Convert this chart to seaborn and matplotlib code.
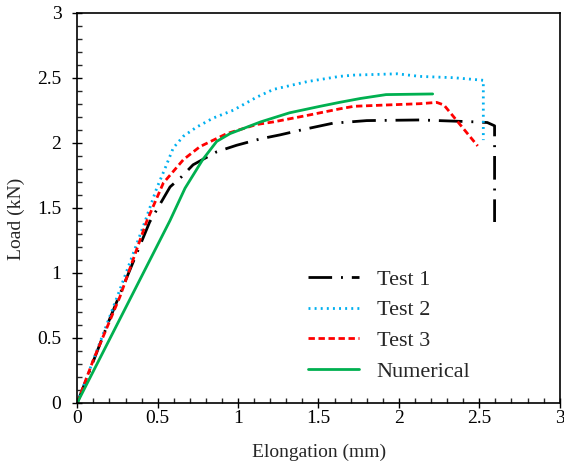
import matplotlib
matplotlib.use("Agg")
import matplotlib.pyplot as plt
import seaborn as sns
import pandas as pd
from matplotlib.ticker import MultipleLocator

# ---- data ----
test1_x = [0, 0.2, 0.45, 0.577, 0.65, 0.72, 0.867, 0.99, 1.14, 1.26, 1.40, 1.59, 1.80, 2.13, 2.48, 2.55, 2.595, 2.595]
test1_y = [0, 0.64, 1.39, 1.66, 1.74, 1.83, 1.93, 1.98, 2.03, 2.06, 2.10, 2.15, 2.17, 2.175, 2.16, 2.155, 2.13, 1.39]

test2_x = [0, 0.1, 0.25, 0.42, 0.494, 0.545, 0.597, 0.66, 0.742, 0.846, 0.97, 1.115, 1.22, 1.43, 1.63, 1.72, 1.99, 2.13, 2.34, 2.525, 2.525]
test2_y = [0, 0.33, 0.82, 1.39, 1.65, 1.80, 1.96, 2.05, 2.12, 2.19, 2.25, 2.35, 2.41, 2.47, 2.51, 2.52, 2.53, 2.51, 2.50, 2.48, 2.02]

test3_x = [0, 0.10, 0.265, 0.43, 0.535, 0.66, 0.763, 0.93, 1.115, 1.22, 1.43, 1.63, 1.72, 1.92, 2.13, 2.235, 2.28, 2.49]
test3_y = [0, 0.33, 0.815, 1.39, 1.69, 1.87, 1.97, 2.07, 2.14, 2.16, 2.21, 2.26, 2.28, 2.29, 2.30, 2.31, 2.29, 1.975]

num_x = [0, 0.576, 0.67, 0.78, 0.867, 0.95, 1.14, 1.32, 1.51, 1.63, 1.76, 1.92, 2.21]
num_y = [0, 1.40, 1.65, 1.87, 2.01, 2.07, 2.16, 2.23, 2.28, 2.31, 2.34, 2.37, 2.375]

labels = ["Test 1", "Test 2", "Test 3", "Numerical"]
x_ticks = [0, 0.5, 1, 1.5, 2, 2.5, 3]
y_ticks = [0, 0.5, 1, 1.5, 2, 2.5, 3]
x_label = "Elongation (mm)"
y_label = "Load (kN)"

sns.set_style("ticks")
plt.rcParams['font.family'] = ['Liberation Serif', 'DejaVu Serif']

fig = plt.figure(figsize=(5.64, 4.67), dpi=100)
ax = fig.add_axes([77.3 / 564, 1 - 402.7 / 467, 482.4 / 564, 390 / 467])

series = [
    (test1_x, test1_y, "black", (0, (8.5, 3.2, 0.7, 3.2)), 2.0),
    (test2_x, test2_y, "#00B0F0", (0, (0.7, 1.5)), 2.0),
    (test3_x, test3_y, "#FF0000", (0, (2.3, 1.3)), 2.0),
    (num_x, num_y, "#00B050", "-", 2.0),
]
for (xs, ys, c, ls, lw), lab in zip(series, labels):
    df = pd.DataFrame({"x": xs, "y": ys})
    sns.lineplot(data=df, x="x", y="y", ax=ax, color=c, linestyle=ls,
                 linewidth=lw, label=lab, sort=False, estimator=None)

ax.set_xlim(0, 3)
ax.set_ylim(0, 3)
ax.set_xticks(x_ticks)
ax.set_yticks(y_ticks)
ax.set_xticklabels([f"{v:g}" for v in x_ticks])
ax.set_yticklabels([f"{v:g}" for v in y_ticks])
ax.xaxis.set_minor_locator(MultipleLocator(0.1))
ax.yaxis.set_minor_locator(MultipleLocator(0.1))

for sp in ax.spines.values():
    sp.set_linewidth(1.2)
    sp.set_color("black")

ax.tick_params(which="major", direction="inout", length=7, width=1.0,
               labelsize=14, colors="black")
ax.tick_params(axis="x", which="major", pad=1.5)
ax.tick_params(axis="y", which="major", pad=8)
ax.tick_params(which="minor", direction="in", length=3.5, width=1.0)

ax.set_xlabel(x_label, fontsize=14)
ax.set_ylabel(y_label, fontsize=14)
ax.xaxis.set_label_coords(0.501, -0.105)
ax.yaxis.set_label_coords(-0.108, 0.471)

leg = ax.legend(loc="upper left", bbox_to_anchor=(0.478, 0.342), frameon=False,
                fontsize=16, handlelength=2.3, handletextpad=0.8,
                labelspacing=0.45, borderpad=0, borderaxespad=0)

fig.savefig("out.png", dpi=100)
